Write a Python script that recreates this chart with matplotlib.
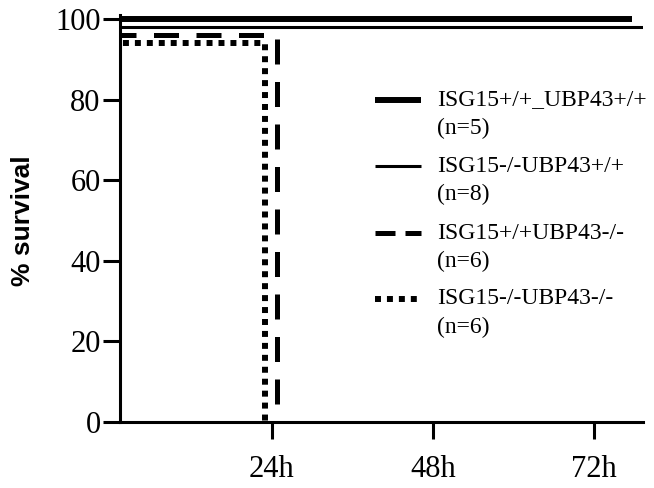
import matplotlib
matplotlib.use("Agg")
import matplotlib.pyplot as plt
from matplotlib.lines import Line2D

# ---- data ----
x_ticks = [24, 48, 72]
x_tick_labels = ["24h", "48h", "72h"]
y_ticks = [0, 20, 40, 60, 80, 100]

g1_time = [0, 77.6]
g1_surv = [100, 100]
g2_time = [0, 79.3]
g2_surv = [98, 98]
g3_time = [0, 24.75]
g3_surv = [96, 0]
g4_time = [0, 23.0]
g4_surv = [94, 0]

labels = ["ISG15+/+_UBP43+/+", "ISG15-/-UBP43+/+", "ISG15+/+UBP43-/-", "ISG15-/-UBP43-/-"]
n_labels = ["(n=5)", "(n=8)", "(n=6)", "(n=6)"]

W, H = 654, 488
fig = plt.figure(figsize=(W / 100, H / 100), dpi=100)
ax = fig.add_axes([120 / W, 1 - 422 / H, (643 - 120) / W, (422 - 15) / H])

serif = "Liberation Serif"

styles = [
    dict(color="black", lw=4.3, solid_capstyle="butt"),
    dict(color="black", lw=2.2, solid_capstyle="butt"),
    dict(color="black", lw=3.6, linestyle=(0, (5, 3.5)), dash_capstyle="butt"),
    dict(color="black", lw=4.3, linestyle=(0, (1, 1)), dash_capstyle="butt"),
]
for (t, s), st in zip([(g1_time, g1_surv), (g2_time, g2_surv), (g3_time, g3_surv), (g4_time, g4_surv)], styles):
    ax.plot(t, s, drawstyle="steps-post", **st)

ax.set_xlim(1.35, 79.3)
ax.set_ylim(0, 101)

for side in ["top", "right"]:
    ax.spines[side].set_visible(False)
for side in ["left", "bottom"]:
    ax.spines[side].set_linewidth(2.2)
    ax.spines[side].set_capstyle("projecting")

ax.set_xticks(x_ticks)
ax.set_xticklabels(x_tick_labels, fontfamily=serif, fontsize=22)
ax.set_yticks(y_ticks)
ax.set_yticklabels([str(v) for v in y_ticks], fontfamily=serif, fontsize=22)
ax.tick_params(axis="x", direction="out", length=12, width=2.2, pad=12)
ax.tick_params(axis="y", direction="out", length=12, width=2.2, pad=2)

fig.text(23 / W, 1 - 221 / H, "% survival", rotation=90, ha="center", va="center",
         fontfamily="Liberation Sans", fontweight="bold", fontsize=19)

# ---- manual legend ----
entry_y = [100, 166, 233, 299]
leg_styles = [
    dict(color="black", lw=4.3, solid_capstyle="butt"),
    dict(color="black", lw=2.2, solid_capstyle="butt"),
    dict(color="black", lw=3.6, linestyle=(0, (4, 2)), dash_capstyle="butt"),
    dict(color="black", lw=4.3, linestyle=(0, (1, 1)), dash_capstyle="butt"),
]
for yy, lab, nl, st in zip(entry_y, labels, n_labels, leg_styles):
    yf = 1 - yy / H
    fig.add_artist(Line2D([375 / W, 421 / W], [yf, yf], transform=fig.transFigure, **st))
    fig.text(437 / W, yf, lab, ha="left", va="center", fontfamily=serif, fontsize=17)
    fig.text(437 / W, 1 - (yy + 28) / H, nl, ha="left", va="center", fontfamily=serif, fontsize=17)

fig.savefig("out.png", dpi=100)
